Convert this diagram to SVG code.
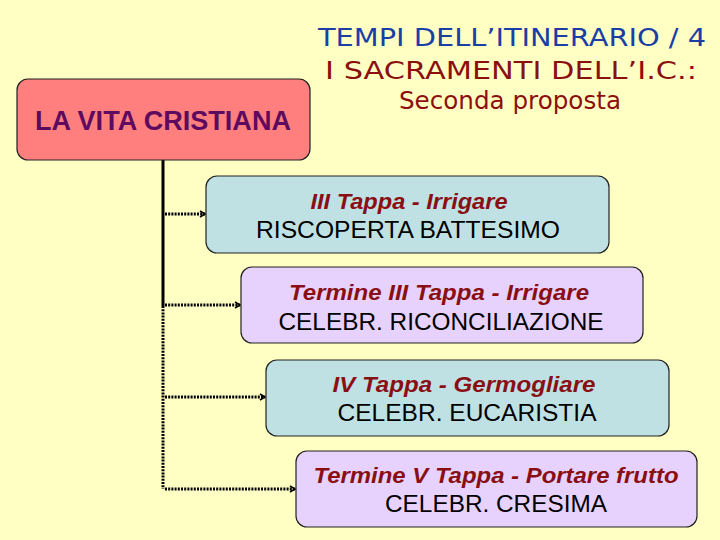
<svg xmlns="http://www.w3.org/2000/svg" width="720" height="540" viewBox="0 0 720 540">
<defs>
<style>
.bg{fill:#ffffc4}
.box{stroke:#222;stroke-width:1.2}
.red{fill:#ff7f7f}
.teal{fill:#bfe1e3}
.lav{fill:#e6d2fc}
.title{font-family:"DejaVu Sans",sans-serif;font-size:24px;text-anchor:middle}
.main{font-family:"Liberation Sans",Arial,sans-serif;font-size:27px;font-weight:bold;fill:#5e0a5e;text-anchor:middle}
.t1{font-family:"Liberation Sans",Arial,sans-serif;font-size:22px;font-style:italic;font-weight:bold;fill:#8a0f14;text-anchor:middle}
.t2{font-family:"Liberation Sans",Arial,sans-serif;font-size:23px;fill:#000;text-anchor:middle}
.conn{fill:none;stroke:#000;stroke-width:3}
.dot{fill:none;stroke:#000;stroke-width:3;stroke-dasharray:2 1.2}
</style>
<marker id="arr" markerWidth="8" markerHeight="8" refX="6" refY="4" orient="auto" markerUnits="userSpaceOnUse">
<path d="M1,1 L6,4 L1,7" fill="none" stroke="#000" stroke-width="1.6"/>
</marker>
</defs>
<rect class="bg" x="0" y="0" width="720" height="540"/>
<g id="title">
<text class="title" x="512" y="46" fill="#1a3ea6" textLength="388" lengthAdjust="spacingAndGlyphs">TEMPI DELL’ITINERARIO / 4</text>
<text class="title" x="511" y="79" fill="#8c0f10" textLength="372" lengthAdjust="spacingAndGlyphs">I SACRAMENTI DELL’I.C.:</text>
<text class="title" x="510" y="109" fill="#8c0f10" textLength="222" lengthAdjust="spacingAndGlyphs">Seconda proposta</text>
</g>
<g id="connectors">
<path class="conn" d="M163,160 V306"/>
<path class="dot" d="M163,306 V489"/>
<path class="dot" d="M165,214 H205" marker-end="url(#arr)"/>
<path class="dot" d="M165,305 H240" marker-end="url(#arr)"/>
<path class="dot" d="M165,397 H265" marker-end="url(#arr)"/>
<path class="dot" d="M165,489 H295" marker-end="url(#arr)"/>
</g>
<g id="node-main">
<rect class="box red" x="17" y="79" width="293" height="81" rx="11"/>
<text class="main" x="163" y="130" textLength="256" lengthAdjust="spacingAndGlyphs">LA VITA CRISTIANA</text>
</g>
<g id="node-1">
<rect class="box teal" x="206" y="176" width="403" height="77" rx="11"/>
<text class="t1" x="409" y="209" textLength="197" lengthAdjust="spacingAndGlyphs">III Tappa - Irrigare</text>
<text class="t2" x="408" y="238" textLength="304" lengthAdjust="spacingAndGlyphs">RISCOPERTA BATTESIMO</text>
</g>
<g id="node-2">
<rect class="box lav" x="241" y="267" width="402" height="76" rx="11"/>
<text class="t1" x="439" y="300" textLength="300" lengthAdjust="spacingAndGlyphs">Termine III Tappa - Irrigare</text>
<text class="t2" x="441" y="330" textLength="325" lengthAdjust="spacingAndGlyphs">CELEBR. RICONCILIAZIONE</text>
</g>
<g id="node-3">
<rect class="box teal" x="266" y="360" width="403" height="76" rx="11"/>
<text class="t1" x="464" y="392" textLength="263" lengthAdjust="spacingAndGlyphs">IV Tappa - Germogliare</text>
<text class="t2" x="467" y="421" textLength="259" lengthAdjust="spacingAndGlyphs">CELEBR. EUCARISTIA</text>
</g>
<g id="node-4">
<rect class="box lav" x="296" y="451" width="401" height="76" rx="11"/>
<text class="t1" x="496" y="483" textLength="365" lengthAdjust="spacingAndGlyphs">Termine V Tappa - Portare frutto</text>
<text class="t2" x="496" y="512" textLength="222" lengthAdjust="spacingAndGlyphs">CELEBR. CRESIMA</text>
</g>
</svg>
